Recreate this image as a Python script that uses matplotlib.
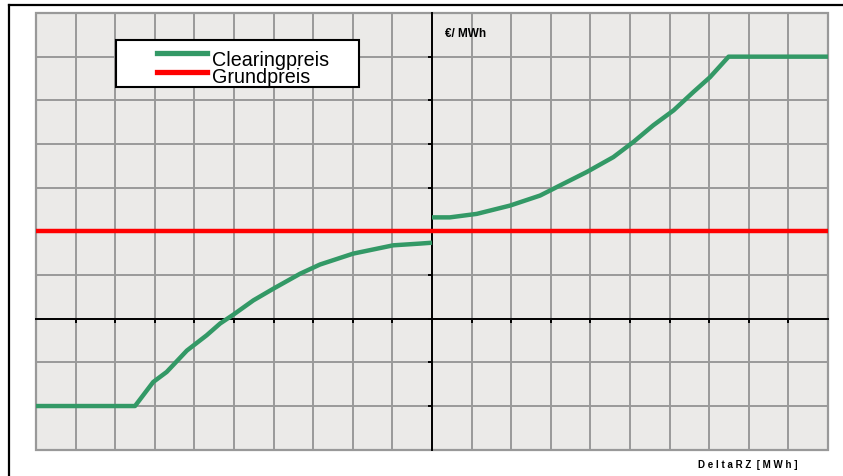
import matplotlib
matplotlib.use("Agg")
import matplotlib.pyplot as plt
from matplotlib.lines import Line2D
from matplotlib.patches import Rectangle

# Clearingpreis curve (grid units)
clear_x_neg = [-10.0, -7.5, -7.04, -6.7, -6.19, -5.69, -5.35, -5.02, -4.51,
               -4.0, -3.33, -2.83, -1.99, -0.98, -0.3, 0.0]
clear_y_neg = [-2.0, -2.0, -1.45, -1.22, -0.73, -0.38, -0.11, 0.09, 0.42,
               0.69, 1.03, 1.24, 1.49, 1.68, 1.72, 1.74]
clear_x_pos = [0.0, 0.45, 1.13, 1.97, 2.73, 3.23, 3.91, 4.58, 5.09, 5.59,
               6.10, 6.60, 7.02, 7.49, 10.0]
clear_y_pos = [2.32, 2.32, 2.40, 2.59, 2.82, 3.05, 3.36, 3.70, 4.05, 4.43,
               4.77, 5.19, 5.53, 6.0, 6.0]

grund_x = [-10.0, 10.0]
grund_y = [2.0, 2.0]

GREEN = "#339966"
RED = "#ff0000"
GRID = "#999999"
FACE = "#ebeae8"

fig = plt.figure(figsize=(8.43, 4.77), dpi=100)
W, H = 843, 477
ax = fig.add_axes([36 / W, 1 - 450.7 / H, (828 - 36) / W, (450.7 - 14) / H])
ax.set_facecolor(FACE)
ax.set_xlim(-10, 10)
ax.set_ylim(-3, 7)

ax.set_xticks(range(-10, 11))
ax.set_yticks(range(-3, 8))
ax.set_xticklabels([])
ax.set_yticklabels([])
ax.grid(True, color=GRID, linewidth=1.4, zorder=1)
ax.set_axisbelow(True)

for side in ("top", "right"):
    ax.spines[side].set_visible(False)
ax.spines["left"].set_position(("data", 0))
ax.spines["bottom"].set_position(("data", 0))
for side in ("left", "bottom"):
    ax.spines[side].set_color("black")
    ax.spines[side].set_linewidth(1.4)
    ax.spines[side].set_zorder(3)
ax.tick_params(direction="out", length=3, width=1.4, color="black")

# grey frame of the plot area
ax.add_patch(Rectangle((0, 0), 1, 1, transform=ax.transAxes, fill=False,
                       edgecolor=GRID, linewidth=1.6, zorder=2,
                       clip_on=False))

ax.plot(grund_x, grund_y, color=RED, linewidth=3.2, zorder=4,
        solid_capstyle="butt", label="Grundpreis")
ax.plot(clear_x_neg, clear_y_neg, color=GREEN, linewidth=3.2, zorder=5,
        solid_capstyle="butt", label="Clearingpreis")
ax.plot(clear_x_pos, clear_y_pos, color=GREEN, linewidth=3.2, zorder=5,
        solid_capstyle="butt")

# legend drawn as a box with two samples
lx0, ly0, lx1, ly1 = 116, 41, 359, 88
fig.patches.append(Rectangle((lx0 / W, 1 - ly1 / H), (lx1 - lx0) / W,
                             (ly1 - ly0) / H, transform=fig.transFigure,
                             facecolor="white", edgecolor="black",
                             linewidth=1.5, zorder=10))
for yy, base, col, lab in ((54, 65.5, GREEN, "Clearingpreis"),
                           (72.5, 83, RED, "Grundpreis")):
    fig.add_artist(Line2D([157 / W, 207 / W], [1 - yy / H, 1 - yy / H],
                          color=col, linewidth=3.8, zorder=11))
    fig.text(212 / W, 1 - base / H, lab, fontsize=14.2,
             family="Liberation Sans", ha="left", va="baseline",
             zorder=12)

fig.text(445 / W, 1 - 34 / H, "€/ MWh", fontsize=8.5, fontweight="bold",
         family="Liberation Sans", ha="left", va="center")
fig.text(798 / W, 1 - 465 / H, "D e l t a R Z  [ M W h ]", fontsize=7,
         fontweight="bold", family="Liberation Sans", ha="right",
         va="center")

# outer black border (left and top)
fig.add_artist(Line2D([8.5 / W, 8.5 / W], [0, 1 - 6 / H], color="black",
                      linewidth=1.6))
fig.add_artist(Line2D([8.5 / W, 1], [1 - 6 / H, 1 - 6 / H], color="black",
                      linewidth=1.6))

fig.savefig("out.png", dpi=100, facecolor="white")
